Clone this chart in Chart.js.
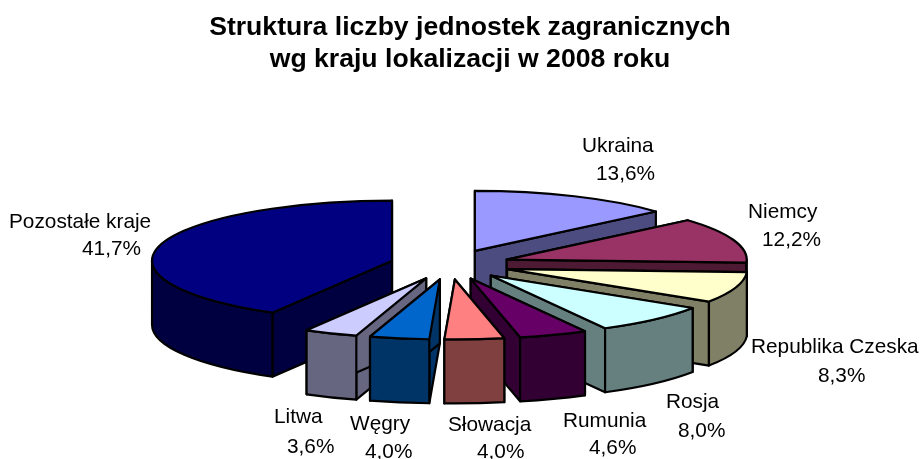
<!DOCTYPE html>
<html lang="pl">
<head>
<meta charset="utf-8">
<title>Struktura liczby jednostek zagranicznych</title>
<script src="https://cdn.jsdelivr.net/npm/chart.js@4"></script>
<style>
   html, body { margin: 0; padding: 0; background: #fff; }
   #wrap { width: 923px; height: 459px; overflow: hidden; }
</style>
</head>
<body>
<div id="wrap"><canvas id="wykres" width="923" height="459"></canvas></div>
<script>
/* =====================================
   DATA
===================================== */
const kraje = ["Ukraina", "Niemcy", "Republika Czeska", "Rosja", "Rumunia", "Słowacja", "Węgry", "Litwa", "Pozostałe kraje"];
const udzialy = [13.6, 12.2, 8.3, 8.0, 4.6, 4.0, 4.0, 3.6, 41.7];
const etykietyProcent = ["13,6%", "12,2%", "8,3%", "8,0%", "4,6%", "4,0%", "4,0%", "3,6%", "41,7%"];
const kolorGora = ["#9999FF", "#993366", "#FFFFCC", "#CCFFFF", "#660066", "#FF8080", "#0066CC", "#CCCCFF", "#000080"];
const kolorBok = ["#4C4C80", "#4D1933", "#808066", "#668080", "#330033", "#804040", "#003366", "#666680", "#000040"];

// Miejsce etykiet: [x nazwy, y nazwy, x procentu, y procentu]
const pozycjeEtykiet = [
   [582, 152, 596, 180],
   [748, 218, 762, 246],
   [751, 353, 818, 382],
   [666, 408, 678, 437],
   [563, 427, 589, 454],
   [448, 431, 477, 458],
   [350, 430, 365, 458],
   [274, 423, 287, 453],
   [9, 228, 82, 255]
];

/* =====================================
   WIDOK 3D
===================================== */
const PROMIEN = 240;
const WYBUCH = 60;
const SPLASZCZENIE = 0.25;
const GLEBOKOSC = 64;
const PRZESUNIECIE_X = -20;

function rysujPlaster(ctx, luk, i) {
   const { x, y, startAngle, endAngle, outerRadius } = luk.getProps(["x", "y", "startAngle", "endAngle", "outerRadius"], true);
   const srodek = (startAngle + endAngle) / 2;
   const offset = luk.options.offset;
   const ry = outerRadius * SPLASZCZENIE;
   const cx = x + PRZESUNIECIE_X + Math.cos(srodek) * offset;
   const cy = y + Math.sin(srodek) * offset * SPLASZCZENIE;
   const punkt = kat => [cx + Math.cos(kat) * outerRadius, cy + Math.sin(kat) * ry];

   ctx.strokeStyle = "#000";
   ctx.lineWidth = 2.2;
   ctx.lineJoin = "round";

   // Scianki promieniowe
   [startAngle, endAngle].forEach(kat => {
      const [px, py] = punkt(kat);
      ctx.beginPath();
      ctx.moveTo(cx, cy);
      ctx.lineTo(px, py);
      ctx.lineTo(px, py + GLEBOKOSC);
      ctx.lineTo(cx, cy + GLEBOKOSC);
      ctx.closePath();
      ctx.fillStyle = kolorBok[i];
      ctx.fill();
      ctx.stroke();
   });

   // Scianka zewnetrzna, tylko przednia czesc luku (sin > 0)
   const od = Math.max(startAngle, 0);
   const dol = Math.min(endAngle, Math.PI);
   if (dol > od) {
      const [ax, ay] = punkt(od);
      const [bx, by] = punkt(dol);
      ctx.beginPath();
      ctx.ellipse(cx, cy, outerRadius, ry, 0, od, dol);
      ctx.lineTo(bx, by + GLEBOKOSC);
      ctx.ellipse(cx, cy + GLEBOKOSC, outerRadius, ry, 0, dol, od, true);
      ctx.lineTo(ax, ay);
      ctx.closePath();
      ctx.fillStyle = kolorBok[i];
      ctx.fill();
      ctx.stroke();
   }

   // Gorna powierzchnia
   ctx.beginPath();
   ctx.moveTo(cx, cy);
   ctx.ellipse(cx, cy, outerRadius, ry, 0, startAngle, endAngle);
   ctx.closePath();
   ctx.fillStyle = kolorGora[i];
   ctx.fill();
   ctx.stroke();
}

const pluginPie3d = {
   id: "pie3d",
   beforeDatasetsDraw(chart) {
      const ctx = chart.ctx;
      const luki = chart.getDatasetMeta(0).data;
      // Od tylu do przodu
      const kolejnosc = luki.map((luk, i) => i).sort((a, b) => {
         const sa = (luki[a].startAngle + luki[a].endAngle) / 2;
         const sb = (luki[b].startAngle + luki[b].endAngle) / 2;
         return Math.sin(sa) - Math.sin(sb);
      });
      ctx.save();
      kolejnosc.forEach(i => rysujPlaster(ctx, luki[i], i));
      ctx.restore();
      return false;
   },
   afterDraw(chart) {
      const ctx = chart.ctx;
      ctx.save();
      ctx.fillStyle = "#000";
      ctx.font = "20.8px 'Liberation Sans', Arial, sans-serif";
      ctx.textAlign = "left";
      ctx.textBaseline = "alphabetic";
      kraje.forEach((nazwa, i) => {
         const [nx, ny, px, py] = pozycjeEtykiet[i];
         ctx.fillText(nazwa, nx, ny);
         ctx.fillText(etykietyProcent[i], px, py);
      });
      ctx.restore();
   }
};

/* =====================================
   WYKRES
===================================== */
new Chart(document.getElementById("wykres"), {
   type: "pie",
   plugins: [pluginPie3d],
   data: {
      labels: kraje,
      datasets: [{
         data: udzialy,
         backgroundColor: kolorGora,
         borderColor: "#000",
         borderWidth: 2,
         offset: WYBUCH
      }]
   },
   options: {
      responsive: false,
      animation: false,
      radius: PROMIEN,
      layout: { padding: { left: 17 } },
      plugins: {
         legend: { display: false },
         tooltip: { enabled: false },
         title: {
            display: true,
            text: ["Struktura liczby jednostek zagranicznych", "wg kraju lokalizacji w 2008 roku"],
            color: "#000",
            font: { family: "'Liberation Sans', Arial, sans-serif", size: 26.6, weight: "bold", lineHeight: 1.17 },
            padding: { top: 12.5, bottom: -4.7 }
         }
      }
   }
});
</script>
</body>
</html>
